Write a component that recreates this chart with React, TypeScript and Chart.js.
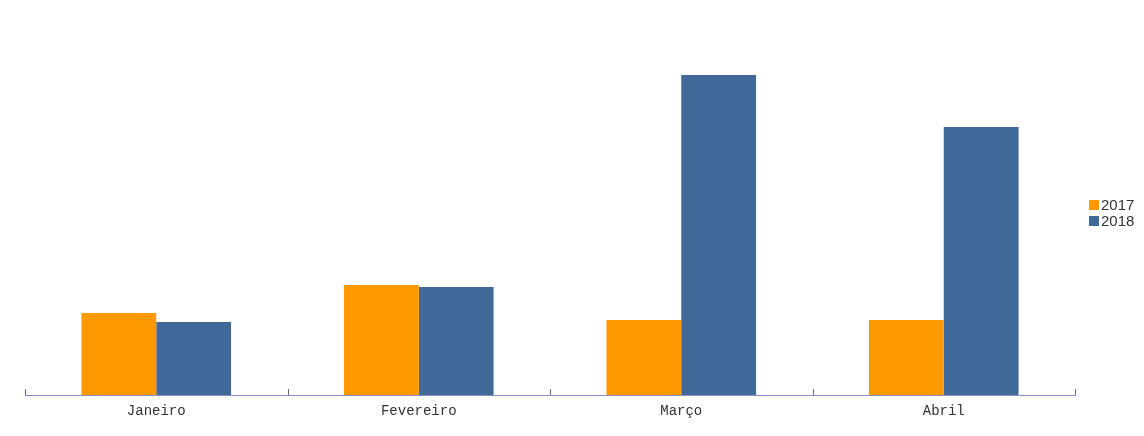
import React, { useEffect, useRef } from "react";
import { Chart, registerables } from "chart.js";

Chart.register(...registerables);

const categories = ["Janeiro", "Fevereiro", "Março", "Abril"];
const series2017 = [82, 110, 75, 75];
const series2018 = [73, 108, 320, 268];
const seriesLabels = ["2017", "2018"];
const seriesColors = ["#FF9900", "#40699A"];
const yMax = 365;

const upTicks = {
  id: "upTicks",
  afterDraw(chart: any) {
    const x = chart.scales.x;
    const ctx = chart.ctx;
    const n = x.ticks.length;
    const bottom = chart.chartArea.bottom;
    ctx.save();
    ctx.strokeStyle = "#666677";
    ctx.lineWidth = 1;
    for (let i = 0; i <= n; i++) {
      let px;
      if (i === 0) px = x.left;
      else if (i === n) px = x.right;
      else px = (x.getPixelForTick(i - 1) + x.getPixelForTick(i)) / 2;
      px = Math.round(px) + 0.5;
      ctx.beginPath();
      ctx.moveTo(px, bottom);
      ctx.lineTo(px, bottom - 6);
      ctx.stroke();
    }
    ctx.restore();
  },
};

const sideLegend = {
  id: "sideLegend",
  afterDraw(chart: any) {
    const ctx = chart.ctx;
    const area = chart.chartArea;
    const ds = chart.data.datasets;
    const spacing = 16;
    const cy = (area.top + area.bottom) / 2;
    const startY = cy - ((ds.length - 1) * spacing) / 2;
    const bx = area.right + 14;
    ctx.save();
    ctx.font = "15px 'Liberation Sans', Arial, sans-serif";
    ctx.textBaseline = "middle";
    ds.forEach((d: any, i: number) => {
      const y = startY + i * spacing;
      ctx.fillStyle = d.backgroundColor;
      ctx.fillRect(bx, Math.round(y - 5), 10, 10);
      ctx.fillStyle = "#333333";
      ctx.fillText(d.label, bx + 12, y + 1);
    });
    ctx.restore();
  },
};

export default function App() {
  const ref = useRef<HTMLCanvasElement>(null);
  useEffect(() => {
    document.body.style.margin = "0";
    const chart = new Chart(ref.current!, {
      type: "bar",
      data: {
        labels: categories,
        datasets: [
          { label: seriesLabels[0], data: series2017, backgroundColor: seriesColors[0] },
          { label: seriesLabels[1], data: series2018, backgroundColor: seriesColors[1] },
        ],
      },
      options: {
        animation: false,
        responsive: false,
        layout: { padding: { left: 25, top: 30, right: 69, bottom: 0 } },
        datasets: { bar: { categoryPercentage: 0.57, barPercentage: 1 } },
        scales: {
          x: {
            grid: { display: false, drawTicks: false },
            border: { display: true, color: "#8C8CC4", width: 1 },
            ticks: {
              color: "#333333",
              padding: 8,
              font: { family: "'Liberation Mono', monospace", size: 14 },
            },
            afterFit: (s: any) => {
              s.height = 41;
            },
          },
          y: { display: false, min: 0, max: yMax },
        },
        plugins: {
          tooltip: { enabled: false },
          legend: { display: false },
        },
      },
      plugins: [upTicks, sideLegend],
    });
    return () => chart.destroy();
  }, []);
  return <canvas ref={ref} width={1144} height={436} style={{ display: "block" }} />;
}
